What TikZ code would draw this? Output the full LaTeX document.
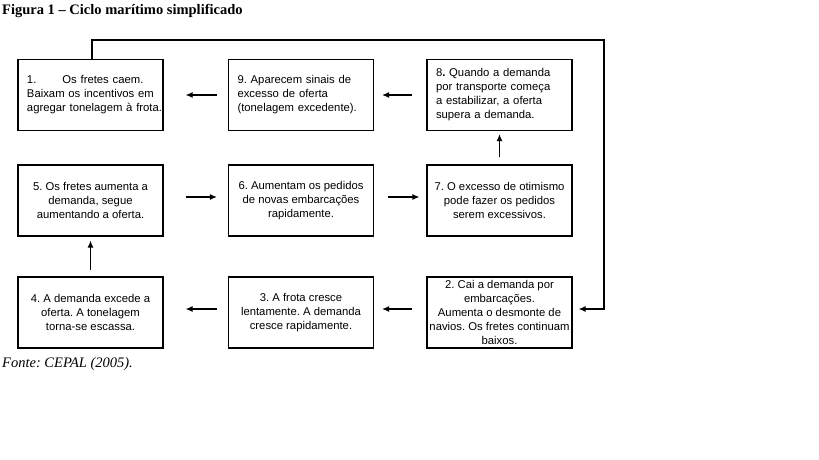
\documentclass[tikz,border=0pt]{standalone}
\usepackage{fontspec}
\setmainfont{Liberation Serif}
\setsansfont{Liberation Sans}
\usetikzlibrary{arrows.meta}
\frenchspacing

\tikzset{
  caixa/.style={draw,line width=1.2pt,minimum width=145pt,minimum height=71pt,
    inner sep=0pt,font=\sffamily\fontsize{11.3}{14}\selectfont},
  caixaesq/.style={caixa,text width=127pt,inner xsep=9pt,align=left},
  caixacen/.style={caixa,align=center},
  seta/.style={-{Latex[length=7pt,width=6pt]},line width=1.2pt}
}

\begin{document}
\begin{tikzpicture}[x=1pt,y=-1pt]
\useasboundingbox (0,0) rectangle (819,460);

% titulo e fonte
\node[anchor=base west,inner sep=0pt,font=\bfseries\fontsize{14.5}{16}\selectfont] (titulo) at (2,15) {Figura 1 – Ciclo marítimo simplificado};
\node[anchor=base west,inner sep=0pt,font=\itshape\fontsize{14.5}{16}\selectfont] (fonte) at (2,367) {Fonte: CEPAL (2005).};

% primeira linha
\node[caixaesq] (b1) at (90.5,95) {\mbox{1.\hspace{2.3em}Os fretes caem.}\\\mbox{Baixam os incentivos em}\\\mbox{agregar tonelagem à frota.}};
\node[caixaesq] (b9) at (301,95) {\mbox{9. Aparecem sinais de}\\\mbox{excesso de oferta}\\\mbox{(tonelagem excedente).}};
\node[caixaesq] (b8) at (499.5,95) {\mbox{8\textbf{.}\ Quando a demanda}\\\mbox{por transporte começa}\\\mbox{a estabilizar, a oferta}\\\mbox{supera a demanda.}};

% segunda linha
\node[caixacen] (b5) at (90.5,200.5) {5. Os fretes aumenta a\\demanda, segue\\aumentando a oferta.};
\node[caixacen] (b6) at (301,200.5) {6. Aumentam os pedidos\\de novas embarcações\\rapidamente.};
\node[caixacen] (b7) at (499.5,200.5) {7. O excesso de otimismo\\pode fazer os pedidos\\serem excessivos.};

% terceira linha
\node[caixacen] (b4) at (90.5,312.5) {4. A demanda excede a\\oferta. A tonelagem\\torna-se escassa.};
\node[caixacen] (b3) at (301,312.5) {3. A frota cresce\\lentamente. A demanda\\cresce rapidamente.};
\node[caixacen] (b2) at (499.5,312.5) {2. Cai a demanda por\\embarcações.\\Aumenta o desmonte de\\navios. Os fretes continuam\\baixos.};

% setas
\draw[seta,shorten <=11pt,shorten >=22pt] (b9.west) -- (b1.east);
\draw[seta,shorten <=14pt,shorten >=8pt] (b8.west) -- (b9.east);
\draw[seta,shorten <=22pt,shorten >=11pt] ([yshift=3.5pt]b5.east) -- ([yshift=3.5pt]b6.west);
\draw[seta,shorten <=14pt,shorten >=7pt] ([yshift=3.5pt]b6.east) -- ([yshift=3.5pt]b7.west);
\draw[seta,shorten <=11pt,shorten >=22pt] ([yshift=3.5pt]b3.west) -- ([yshift=3.5pt]b4.east);
\draw[seta,shorten <=14pt,shorten >=8pt] ([yshift=3.5pt]b2.west) -- ([yshift=3.5pt]b3.east);
\draw[seta,shorten <=7pt,shorten >=3pt] (b7.north) -- (b8.south);
\draw[seta,shorten <=6pt,shorten >=4pt] (b4.north) -- (b5.south);

% retorno
\coordinate (canto) at (604,40);
\draw[seta] ([xshift=1.5pt]b1.north) |- (canto) |- ([xshift=6pt,yshift=3.5pt]b2.east);
\end{tikzpicture}
\end{document}
